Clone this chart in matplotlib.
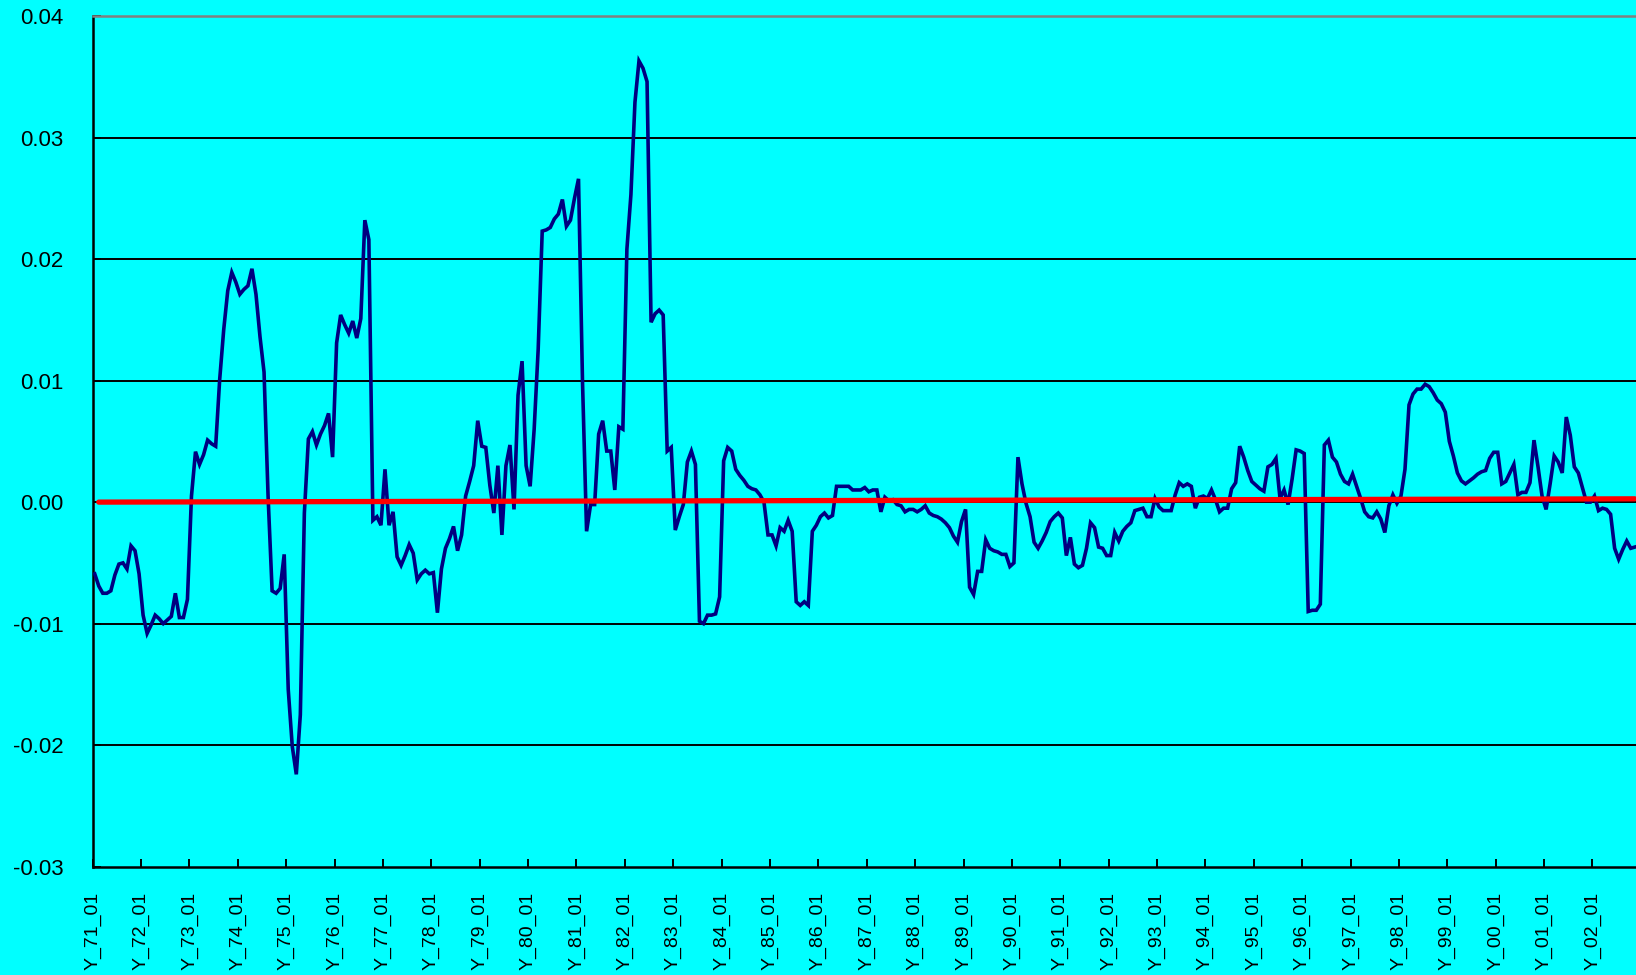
import matplotlib
matplotlib.use("Agg")
import matplotlib.pyplot as plt
import numpy as np

# ---- data (monthly values, Jan 1971 onward) ----
values = [
    -0.0059, -0.0069, -0.0075, -0.0075, -0.0073, -0.0060, -0.0051, -0.0050, -0.0055, -0.0036,
    -0.0040, -0.0059, -0.0093, -0.0108, -0.0101, -0.0093, -0.0096, -0.0100, -0.0097, -0.0094,
    -0.0075, -0.0095, -0.0095, -0.0080, 0.0005, 0.00415, 0.0031, 0.0039, 0.0051, 0.0048,
    0.0046, 0.0101, 0.0142, 0.0174, 0.0189, 0.0181, 0.0171, 0.0175, 0.0178, 0.0192,
    0.0171, 0.0136, 0.0107, 0.0005, -0.0073, -0.0075, -0.0071, -0.0043, -0.0154, -0.0201,
    -0.0224, -0.0175, -0.0009, 0.0052, 0.0058, 0.0047, 0.0056, 0.0063, 0.0073, 0.0037,
    0.0131, 0.0154, 0.0146, 0.0139, 0.0149, 0.0135, 0.0151, 0.0232, 0.0216, -0.0015,
    -0.0012, -0.0019, 0.0027, -0.0019, -0.0008, -0.0045, -0.0052, -0.0044, -0.0035, -0.0042,
    -0.0064, -0.0059, -0.0056, -0.0059, -0.0058, -0.0091, -0.0055, -0.0038, -0.0030, -0.0020,
    -0.0040, -0.0027, 0.0005, 0.0017, 0.0030, 0.0067, 0.0046, 0.0045, 0.0014, -0.0009,
    0.0030, -0.0027, 0.0030, 0.0047, -0.0006, 0.0088, 0.0116, 0.0030, 0.0013, 0.0060,
    0.0126, 0.0223, 0.0224, 0.0226, 0.0233, 0.0237, 0.0249, 0.0227, 0.0232, 0.0250,
    0.0266, 0.0098, -0.0024, -0.0002, -0.0002, 0.0056, 0.0067, 0.0042, 0.0042, 0.0010,
    0.0062, 0.0060, 0.0208, 0.0253, 0.0329, 0.0363, 0.0357, 0.0346, 0.0148, 0.0155,
    0.0158, 0.0154, 0.0042, 0.0045, -0.0023, -0.0012, -0.0002, 0.0033, 0.0042, 0.0031,
    -0.0098, -0.0100, -0.0093, -0.0093, -0.0092, -0.0078, 0.0034, 0.0045, 0.0042, 0.0027,
    0.0022, 0.0018, 0.0013, 0.0011, 0.0010, 0.0006, 0.0000, -0.0027, -0.0027, -0.0036,
    -0.0021, -0.0024, -0.0015, -0.0024, -0.0082, -0.0085, -0.0082, -0.0085, -0.0024, -0.0019,
    -0.0012, -0.0009, -0.0013, -0.0011, 0.0013, 0.0013, 0.0013, 0.0013, 0.0010, 0.0010,
    0.0010, 0.0012, 0.00085, 0.0010, 0.0010, -0.0008, 0.0004, 0.0001, 0.0002, -0.0002,
    -0.0003, -0.0008, -0.0006, -0.0006, -0.0008, -0.0006, -0.0003, -0.0009, -0.0011, -0.0012,
    -0.0014, -0.0017, -0.0021, -0.0028, -0.0033, -0.0016, -0.0006, -0.0070, -0.0076, -0.0057,
    -0.0057, -0.0031, -0.0038, -0.0040, -0.0041, -0.0043, -0.0043, -0.0053, -0.0050, 0.0037,
    0.0015, -0.0001, -0.0012, -0.0033, -0.0038, -0.0032, -0.0025, -0.0016, -0.0012, -0.0009,
    -0.0013, -0.0044, -0.0029, -0.0051, -0.0054, -0.0052, -0.0038, -0.0017, -0.0021, -0.0037,
    -0.0038, -0.0044, -0.0044, -0.0025, -0.0032, -0.0024, -0.0020, -0.0017, -0.0007, -0.0006,
    -0.0005, -0.0012, -0.0012, 0.0003, -0.0004, -0.0007, -0.0007, -0.0007, 0.0006, 0.0016,
    0.0013, 0.0015, 0.0013, -0.0005, 0.0004, 0.0005, 0.0003, 0.0010, 0.0002, -0.0008,
    -0.0005, -0.0005, 0.0011, 0.0016, 0.0046, 0.0037, 0.0026, 0.0017, 0.0014, 0.0011,
    0.0009, 0.0029, 0.0031, 0.0036, 0.0003, 0.0010, -0.0002, 0.0019, 0.0043, 0.0042,
    0.0040, -0.0090, -0.0089, -0.0089, -0.0084, 0.0047, 0.0051, 0.0037, 0.0033, 0.0023,
    0.0017, 0.0015, 0.0023, 0.0013, 0.0003, -0.0008, -0.0012, -0.0013, -0.0008, -0.0014,
    -0.0025, -0.0003, 0.0006, -0.0001, 0.0005, 0.0027, 0.0080, 0.0089, 0.0093, 0.0093,
    0.0097, 0.0095, 0.0090, 0.0084, 0.0081, 0.0074, 0.0050, 0.0038, 0.0024, 0.00175,
    0.0015, 0.00175, 0.0020, 0.0023, 0.0025, 0.0026, 0.0036, 0.0041, 0.0041, 0.0015,
    0.0017, 0.0024, 0.0031, 0.0006, 0.0008, 0.0008, 0.0016, 0.0051, 0.0029, 0.0005,
    -0.0006, 0.0015, 0.0038, 0.0033, 0.0024, 0.0070, 0.0055, 0.0029, 0.0024, 0.0012,
    0.0000, 0.0000, 0.0005, -0.0007, -0.0005, -0.0006, -0.0010, -0.0038, -0.0047, -0.0039,
    -0.0032, -0.0038, -0.0037,
]

# red reference (trend) line end values
trend_start = 0.0
trend_end = 0.00027

years = ["71", "72", "73", "74", "75", "76", "77", "78", "79", "80", "81",
         "82", "83", "84", "85", "86", "87", "88", "89", "90", "91", "92",
         "93", "94", "95", "96", "97", "98", "99", "00", "01", "02"]
tick_labels = ["Y_" + y + "_01" for y in years]
y_ticks = [-0.03, -0.02, -0.01, 0.00, 0.01, 0.02, 0.03, 0.04]

# ---- plotting ----
plt.rcParams['font.family'] = ['Liberation Sans', 'DejaVu Sans']
CYAN = "#00FFFF"
fig = plt.figure(figsize=(16.36, 9.75), dpi=100, facecolor=CYAN)
ax = fig.add_axes([92.7 / 1636, 1 - 866.7 / 975, 1 - 92.7 / 1636, (866.7 - 16) / 975])
ax.set_facecolor(CYAN)

n = len(values)
x = np.arange(n) + 0.5

for yv in y_ticks[1:-1]:
    ax.axhline(yv, color="black", lw=1.4, zorder=1)

ax.plot(x, values, color="#000080", lw=2.6, zorder=3, solid_joinstyle="miter")
ax.plot([1.5, n - 0.5], [trend_start, trend_end], color="#FF0000", lw=3.8,
        zorder=4, solid_capstyle="round")

ax.set_xlim(0, 382.8)
ax.set_ylim(-0.03, 0.04)

ax.set_yticks(y_ticks)
ax.set_yticklabels(["%.2f" % v for v in y_ticks], fontsize=16)
ax.set_xticks(np.arange(len(tick_labels)) * 12)
ax.set_xticklabels(tick_labels, rotation=90, fontsize=14, va="top", ha="center")

ax.tick_params(axis="y", direction="in", length=5.5, width=1.4, pad=21, colors="black")
ax.tick_params(axis="x", direction="in", length=6, width=1.4, pad=18, colors="black")

ax.spines["left"].set_color("black")
ax.spines["left"].set_linewidth(1.8)
ax.spines["bottom"].set_color("black")
ax.spines["bottom"].set_linewidth(1.8)
ax.spines["top"].set_color("#808080")
ax.spines["top"].set_linewidth(1.8)
ax.spines["right"].set_visible(False)

fig.savefig("out.png", dpi=100, facecolor=CYAN)
